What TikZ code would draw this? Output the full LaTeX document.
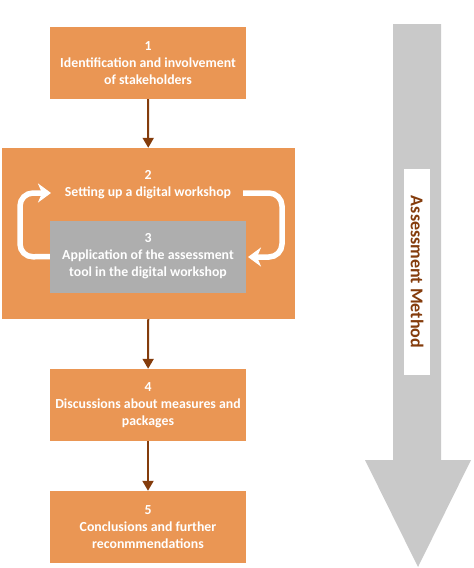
\documentclass[tikz,border=0pt]{standalone}
\usepackage{fontspec}
\setmainfont{Carlito}
\usetikzlibrary{arrows.meta}

\definecolor{stepOrange}{HTML}{EA9654}
\definecolor{toolGray}{HTML}{AEAEAE}
\definecolor{flowBrown}{HTML}{843C0C}
\definecolor{methodGray}{HTML}{C9C9C9}

\tikzset{
  stepbox/.style={fill=stepOrange, text=white, font=\bfseries\fontsize{13.8}{17}\selectfont,
    minimum width=196pt, minimum height=72pt, align=center, inner sep=0pt},
  toolbox/.style={stepbox, fill=toolGray},
  flowarrow/.style={draw=flowBrown, line width=2pt, -{Triangle[length=10pt,width=11pt]}},
  looparrow/.style={draw=white, line width=5.5pt, rounded corners=13pt,
    -{Stealth[length=13pt,width=19pt,inset=4pt]}}
}

\begin{document}
\begin{tikzpicture}[x=1pt,y=-1pt]

  \useasboundingbox (0,0) rectangle (474,568);

  % method arrow on the right
  \fill[methodGray] (393,24) -- (441,24) -- (441,460) -- (471,460) -- (418,567)
    -- (365,460) -- (393,460) -- cycle;
  \node [fill=white, text=flowBrown, rotate=-90, minimum width=206pt, minimum height=26pt,
    inner sep=0pt, font=\bfseries\fontsize{18}{20}\selectfont] (method) at (417,272)
    {Assessment Method};

  % steps
  \node [stepbox] (stake) at (148,63) {1\\Identification and involvement\\of stakeholders};
  \node [stepbox, minimum width=293pt, minimum height=171pt] (workshop) at (148.5,233.5) {};
  \node [text=white, font=\bfseries\fontsize{13.8}{17}\selectfont, align=center,
    inner sep=0pt] (setup) at (148,185) {2\\Setting up a digital workshop};
  \node [toolbox] (tool) at (148,256.5) {3\\Application of the assessment\\tool in the digital workshop};
  \node [stepbox] (discuss) at (148,405) {4\\Discussions about measures and\\packages};
  \node [stepbox] (concl) at (148,527) {5\\Conclusions and further\\reconmmendations};

  \draw [flowarrow] (stake) -- (workshop);
  \draw [flowarrow] (workshop) -- (discuss);
  \draw [flowarrow] (discuss) -- (concl);

  % loop between 2 and 3
  \coordinate (setupin) at (51,193);
  \coordinate (setupout) at (243,193);
  \coordinate (toolin) at (248,257);
  \draw [looparrow] (tool.west) -- (20,257) -- (20,193) -- (setupin);
  \draw [looparrow] (setupout) -- (282,193) -- (282,257) -- (toolin);

\end{tikzpicture}
\end{document}
